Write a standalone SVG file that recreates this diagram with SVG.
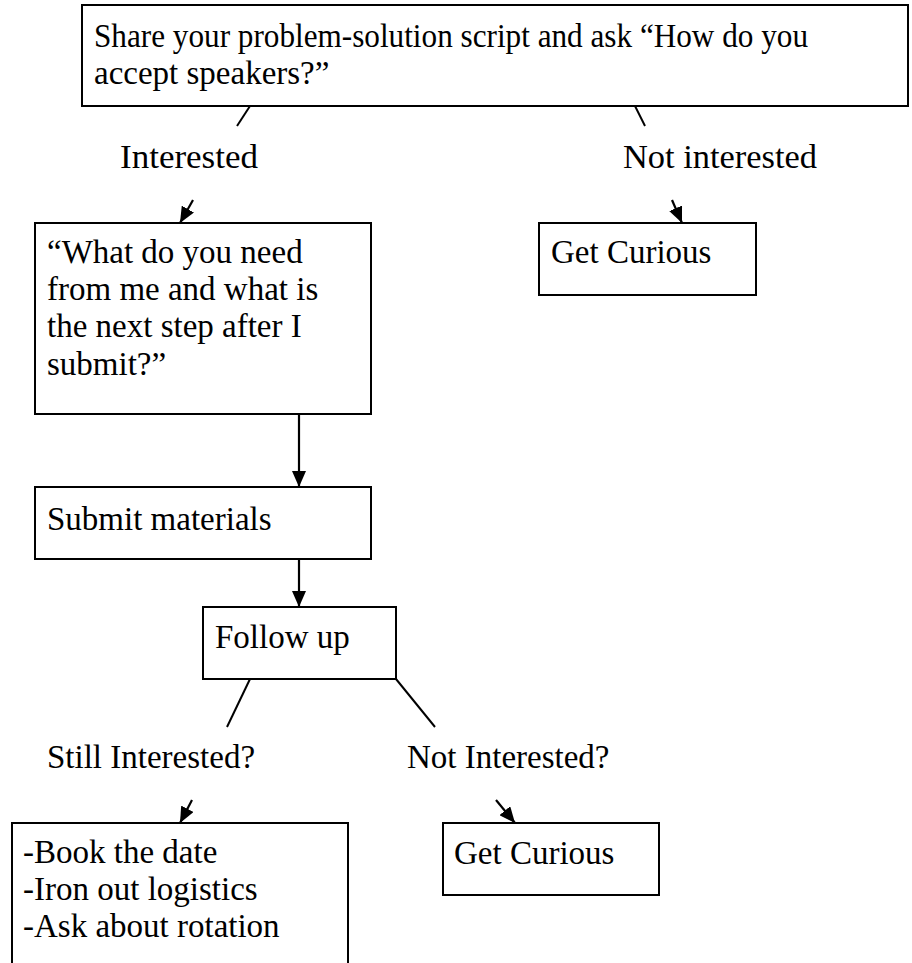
<svg xmlns="http://www.w3.org/2000/svg" width="912" height="963" viewBox="0 0 912 963">
<style>
  .box { fill: #ffffff; stroke: #000000; stroke-width: 2; }
  .t { font-family: "Liberation Serif", "Times New Roman", serif; font-size: 33px; fill: #000000; }
  .ln { stroke: #000000; stroke-width: 2; fill: none; }
  .ar { stroke: #000000; stroke-width: 2.2; fill: none; marker-end: url(#ah); }
</style>
<defs>
  <marker id="ah" markerUnits="userSpaceOnUse" markerWidth="18" markerHeight="14" refX="16" refY="7" orient="auto">
    <path d="M0,0 L16,7 L0,14 z" fill="#000000"/>
  </marker>
</defs>
<rect width="912" height="963" fill="#ffffff"/>

<g id="n-share">
  <rect class="box" x="82" y="5" width="826" height="101"/>
  <text class="t" x="94" y="47" textLength="714" lengthAdjust="spacingAndGlyphs">Share your problem-solution script and ask “How do you</text>
  <text class="t" x="94" y="84">accept speakers?”</text>
</g>

<g id="n-interested-label">
  <text class="t" x="120" y="168" textLength="138" lengthAdjust="spacingAndGlyphs">Interested</text>
</g>
<g id="n-notinterested-label">
  <text class="t" x="623" y="168" textLength="194" lengthAdjust="spacingAndGlyphs">Not interested</text>
</g>

<g id="n-whatneed">
  <rect class="box" x="35" y="223" width="336" height="191"/>
  <text class="t" x="47" y="263">“What do you need</text>
  <text class="t" x="47" y="300">from me and what is</text>
  <text class="t" x="47" y="337">the next step after I</text>
  <text class="t" x="47" y="375">submit?”</text>
</g>

<g id="n-curious1">
  <rect class="box" x="539" y="223" width="217" height="72"/>
  <text class="t" x="551" y="263">Get Curious</text>
</g>

<g id="n-submit">
  <rect class="box" x="35" y="487" width="336" height="72"/>
  <text class="t" x="47" y="530">Submit materials</text>
</g>

<g id="n-follow">
  <rect class="box" x="203" y="607" width="193" height="72"/>
  <text class="t" x="215" y="648">Follow up</text>
</g>

<g id="n-still-label">
  <text class="t" x="47" y="768">Still Interested?</text>
</g>
<g id="n-notint-label">
  <text class="t" x="407" y="768">Not Interested?</text>
</g>

<g id="n-book">
  <rect class="box" x="12" y="823" width="336" height="160"/>
  <text class="t" x="23" y="863">-Book the date</text>
  <text class="t" x="23" y="900">-Iron out logistics</text>
  <text class="t" x="23" y="937">-Ask about rotation</text>
</g>

<g id="n-curious2">
  <rect class="box" x="443" y="823" width="216" height="72"/>
  <text class="t" x="454" y="864">Get Curious</text>
</g>

<g id="connectors">
  <line class="ln" x1="250" y1="106" x2="237" y2="126"/>
  <line class="ln" x1="635" y1="106" x2="645" y2="126"/>
  <line class="ar" x1="193" y1="200" x2="180" y2="223"/>
  <line class="ar" x1="672" y1="200" x2="682" y2="223"/>
  <line class="ar" x1="299" y1="414" x2="299" y2="487"/>
  <line class="ar" x1="299" y1="559" x2="299" y2="607"/>
  <line class="ln" x1="250" y1="679" x2="227" y2="727"/>
  <line class="ln" x1="396" y1="679" x2="435" y2="727"/>
  <line class="ar" x1="192" y1="800" x2="180" y2="823"/>
  <line class="ar" x1="496" y1="800" x2="515" y2="823"/>
</g>
</svg>
